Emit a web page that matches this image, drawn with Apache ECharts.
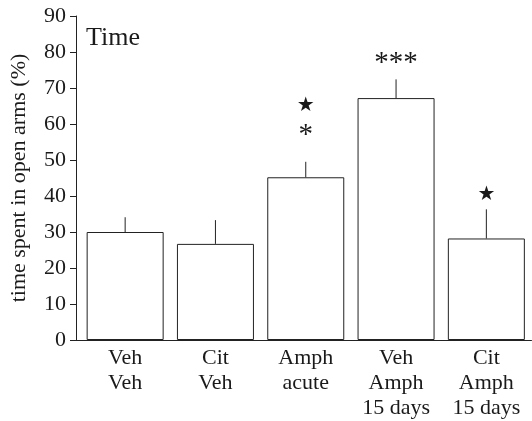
<!DOCTYPE html>
<html><head><meta charset="utf-8">
<script src="https://cdn.jsdelivr.net/npm/echarts@6/dist/echarts.min.js"></script>
<style>html,body{margin:0;padding:0;background:#fff}#c{width:532px;height:421px}</style>
</head><body><div id="c"></div>
<script>
var categories = ['Veh\nVeh', 'Cit\nVeh', 'Amph\nacute', 'Veh\nAmph\n15 days', 'Cit\nAmph\n15 days'];
var means = [30, 26.7, 45.2, 67.2, 28.2];
var errorTops = [34.1, 33.3, 49.5, 72.4, 36.3];
var yTicks = [0, 10, 20, 30, 40, 50, 60, 70, 80, 90];
var annotations = [
  {cat: 2, y: 65, text: '★', kind: 'star'},
  {cat: 2, y: 56.8, text: '*', kind: 'ast'},
  {cat: 3, y: 76.8, text: '***', kind: 'ast'},
  {cat: 4, y: 40.3, text: '★', kind: 'star'}
];
var serif = '"Liberation Serif", "Times New Roman", serif';
var yOffset = 4;
var chart = echarts.init(document.getElementById('c'));
chart.setOption({
  animation: false,
  backgroundColor: '#fff',
  title: {text: 'Time', left: 81, top: 20, textStyle: {fontFamily: serif, fontSize: 26, fontWeight: 'normal', color: '#1a1a1a'}},
  grid: {left: 79, right: 0.5, top: 16, bottom: 81, containLabel: false},
  xAxis: {
    type: 'category', data: categories,
    axisLine: {lineStyle: {color: '#222', width: 1}},
    axisTick: {show: false},
    axisLabel: {fontFamily: serif, fontSize: 22, color: '#1a1a1a', lineHeight: 25, margin: 6}
  },
  yAxis: {
    type: 'value', min: 0, max: 90, interval: 10, offset: yOffset,
    name: 'time spent in open arms (%)', nameLocation: 'middle', nameGap: 46, nameRotate: 90,
    nameTextStyle: {fontFamily: serif, fontSize: 22, color: '#1a1a1a'},
    axisLine: {show: true, lineStyle: {color: '#222', width: 1}},
    axisTick: {show: true, length: 6, lineStyle: {color: '#222'}},
    axisLabel: {fontFamily: serif, fontSize: 22, color: '#1a1a1a', margin: 10,
      formatter: function (v) { return yTicks.indexOf(v) >= 0 ? String(v) : ''; }},
    splitLine: {show: false}
  },
  series: [
    {type: 'bar', data: means, barWidth: 77,
     itemStyle: {color: '#fff', borderColor: '#222', borderWidth: 1}},
    {type: 'custom', data: means.map(function (m, i) { return [i, m, errorTops[i]]; }),
     renderItem: function (params, api) {
       var p0 = api.coord([api.value(0), api.value(1)]);
       var p1 = api.coord([api.value(0), api.value(2)]);
       return {type: 'line', shape: {x1: p0[0], y1: p0[1], x2: p1[0], y2: p1[1]},
         style: {stroke: '#222', lineWidth: 1}};
     }, z: 3},
    {type: 'custom', data: annotations.map(function (a) { return [a.cat, a.y, a.text, a.kind]; }),
     renderItem: function (params, api) {
       var a = annotations[params.dataIndex];
       var p = api.coord([a.cat, a.y]);
       var isStar = a.kind === 'star';
       return {type: 'text', x: p[0], y: p[1],
         style: {text: a.text, align: 'center', verticalAlign: 'middle',
           font: isStar ? '20px "DejaVu Sans"' : '29px ' + serif,
           fill: '#1a1a1a'}};
     }, z: 4}
  ]
});
// extend the x axis line left to meet the offset y axis
var rect = chart.getModel().getComponent('grid').coordinateSystem.getRect();
var y0 = chart.convertToPixel({yAxisIndex: 0}, 0);
chart.setOption({graphic: [{type: 'line', shape: {x1: rect.x - yOffset, y1: Math.round(y0) + 0.5, x2: rect.x, y2: Math.round(y0) + 0.5}, style: {stroke: '#222', lineWidth: 1}, z: 5}]});
</script></body></html>
